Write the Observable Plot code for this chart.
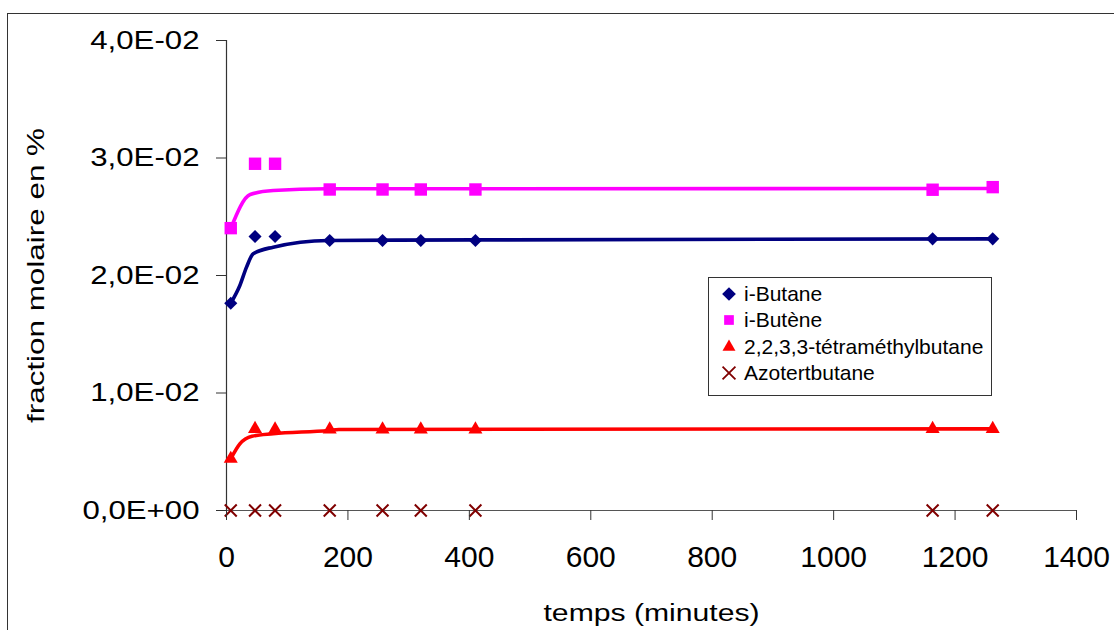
<!DOCTYPE html>
<html><head><meta charset="utf-8">
<script src="https://cdn.jsdelivr.net/npm/d3@7"></script>
<script src="https://cdn.jsdelivr.net/npm/@observablehq/plot@0.6"></script>
<style>
html,body{margin:0;padding:0;background:#fff;overflow:hidden}
#wrap{position:relative;width:1114px;height:630px;overflow:hidden;font-family:"Liberation Sans",Arial,sans-serif}
#frame{position:absolute;left:7px;top:13px;width:1200px;height:700px;border:1.5px solid #333;box-sizing:border-box}
#chart{position:absolute;left:0;top:0}
#legend{position:absolute;left:708px;top:277px;width:284px;height:119px;border:1px solid #333;background:#fff;box-sizing:border-box}
.row{position:absolute;left:0;height:26px;display:flex;align-items:center;font-size:21px;color:#000;white-space:nowrap}
.row svg{margin-left:12px;margin-right:7px}
</style></head>
<body><div id="wrap"><div id="frame"></div><div id="chart"></div><div id="legend"></div></div>
<script>
// ---- data ----
const temps = [7, 47, 80, 170, 257, 320, 410, 1163, 1262];
const iButane = [0.01764, 0.02332, 0.02332, 0.02298, 0.02298, 0.02298, 0.02298, 0.02312, 0.02312];
const iButene = [0.02403, 0.02951, 0.02951, 0.02732, 0.02732, 0.02732, 0.02732, 0.02730, 0.02752];
const tetramethylbutane = [0.0044, 0.00695, 0.0069, 0.0069, 0.0069, 0.0069, 0.0069, 0.00695, 0.00695];
const azotertbutane = [0, 0, 0, 0, 0, 0, 0, 0, 0];
// trend curves
const fitButaneT = [7, 22, 33, 44, 77, 168, 410, 1262];
const fitButaneV = [0.01764, 0.01915, 0.02071, 0.02185, 0.02241, 0.02298, 0.02303, 0.02312];
const fitButeneT = [7, 39, 77, 165, 1262];
const fitButeneV = [0.0240, 0.02689, 0.02723, 0.02738, 0.02740];
const fitTetraT = [7, 22, 42, 77, 168, 185, 1262];
const fitTetraV = [0.0044, 0.00567, 0.00632, 0.00653, 0.00681, 0.0069, 0.00695];
const seriesNames = ["i-Butane", "i-Butène", "2,2,3,3-tétraméthylbutane", "Azotertbutane"];
const seriesColors = ["#000080", "#FF00FF", "#FF0000", "#800000"];
const seriesSymbols = ["diamond2", "square2", "triangle2", "times"];
const xTicks = [0, 200, 400, 600, 800, 1000, 1200, 1400];
const yTicks = [0, 0.01, 0.02, 0.03, 0.04];
const xLabel = "temps (minutes)";
const yLabel = "fraction molaire en %";

const values = [iButane, iButene, tetramethylbutane, azotertbutane];
const fits = [[fitButaneT, fitButaneV], [fitButeneT, fitButeneV], [fitTetraT, fitTetraV]];
const radii = [5.9, 7.9, 6.7, 5.5];

const fmtY = d => {
  const [m, e] = d.toExponential(1).split("e");
  return m.replace(".", ",") + "E" + e[0] + e.slice(1).padStart(2, "0");
};

const marks = [
  Plot.ruleY([0], {stroke: "#555", strokeWidth: 1.2}),
  Plot.ruleX([0], {y1: 0, y2: 0.04, stroke: "#333", strokeWidth: 1.2}),
];
fits.forEach(([ts, vs], k) => {
  marks.push(Plot.line(ts.map((t, i) => ({t, v: vs[i]})), {
    x: "t", y: "v", stroke: seriesColors[k], strokeWidth: 3.6, curve: "monotone-x"
  }));
});
values.forEach((vals, k) => {
  const data = temps.map((t, i) => ({t, v: vals[i]}));
  const isStroke = seriesSymbols[k] === "times";
  marks.push(Plot.dot(data, {
    x: "t", y: "v", symbol: () => seriesSymbols[k], r: radii[k],
    fill: isStroke ? "none" : seriesColors[k],
    stroke: isStroke ? seriesColors[k] : "none",
    strokeWidth: isStroke ? 2 : 0
  }));
});
marks.push(Plot.axisX({ticks: xTicks, tickFormat: d => String(d), tickSize: 10, tickPadding: 25,
  fontSize: 30, label: xLabel, labelAnchor: "center", labelOffset: 110, labelArrow: "none", stroke: "#333"}));
marks.push(Plot.axisY({ticks: yTicks, tickFormat: fmtY, tickSize: 10, tickPadding: 17,
  fontSize: 26, label: yLabel, labelAnchor: "center", labelOffset: 200, labelArrow: "none", stroke: "#333"}));

const chart = Plot.plot({
  width: 1114, height: 630,
  marginLeft: 226, marginRight: 38, marginTop: 40, marginBottom: 120,
  x: {domain: [0, 1400]},
  y: {domain: [0, 0.04]},
  style: {fontFamily: '"Liberation Sans", Arial, sans-serif', color: "#000", background: "transparent", overflow: "visible"},
  marks
});
document.getElementById("chart").appendChild(chart);

// stretch texts horizontally as in the reference rendering
function stretch(sel, factor, size, target) {
  chart.querySelectorAll(sel).forEach(t => {
    if (size) t.setAttribute("font-size", size);
    const len = t.getComputedTextLength();
    t.setAttribute("textLength", target || len * factor);
    t.setAttribute("lengthAdjust", "spacingAndGlyphs");
  });
}
stretch('g[aria-label="y-axis tick label"] text', 1.2);
stretch('g[aria-label="x-axis label"] text', 1, 23, 216);
stretch('g[aria-label="y-axis label"] text', 1, 24, 295);

// legend
const legend = document.getElementById("legend");
const rowCenters = [16, 42, 69, 95];
seriesNames.forEach((name, k) => {
  const row = document.createElement("div");
  row.className = "row";
  row.style.top = (rowCenters[k] - 13) + "px";
  const svg = d3.create("svg").attr("width", 16).attr("height", 16);
  const symMap = {diamond2: d3.symbolDiamond2, square2: d3.symbolSquare2, triangle2: d3.symbolTriangle2, times: d3.symbolTimes};
  const isStroke = seriesSymbols[k] === "times";
  svg.append("path")
    .attr("transform", "translate(8,8)")
    .attr("d", d3.symbol(symMap[seriesSymbols[k]], isStroke ? 110 : 120)())
    .attr("fill", isStroke ? "none" : seriesColors[k])
    .attr("stroke", isStroke ? seriesColors[k] : "none")
    .attr("stroke-width", 1.8);
  row.appendChild(svg.node());
  const span = document.createElement("span");
  span.textContent = name;
  row.appendChild(span);
  legend.appendChild(row);
});
</script>
</body></html>
